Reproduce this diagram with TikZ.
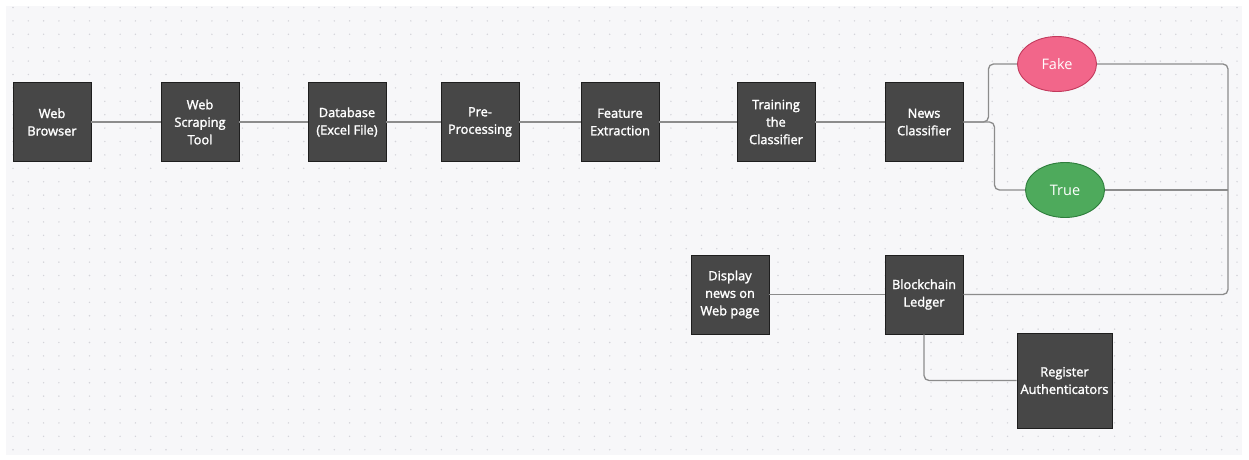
\documentclass[tikz,border=0pt]{standalone}
\usepackage{fontspec}
\newfontfamily\lbl{Open Sans}[FakeBold=1.8]
\newfontfamily\olbl{Open Sans}
\usetikzlibrary{shapes.geometric}
\definecolor{bgc}{HTML}{F7F7F9}
\definecolor{dotc}{HTML}{D4D4DA}
\definecolor{boxc}{HTML}{474747}
\definecolor{boxb}{HTML}{1E1E1E}
\definecolor{linec}{HTML}{8C8C8C}
\definecolor{fakef}{HTML}{F2668A}
\definecolor{fakeb}{HTML}{C23A5C}
\definecolor{truef}{HTML}{4EAA5C}
\definecolor{trueb}{HTML}{2E7D3C}
\tikzset{
  procbox/.style={draw=boxb, line width=0.9pt, fill=boxc, text=white, inner sep=0pt,
    minimum width=78pt, minimum height=79pt, align=center,
    font=\lbl\fontsize{12.8}{17.5}\selectfont},
  outbox/.style={ellipse, line width=0.9pt, text=white, inner sep=0pt,
    minimum width=79pt, minimum height=55pt, font=\olbl\fontsize{14.5}{16}\selectfont},
  conn/.style={draw=linec, line width=1.3pt, rounded corners=5pt}
}
\begin{document}
\begin{tikzpicture}[x=1pt, y=-1pt]
\useasboundingbox (0,0) rectangle (1249,460);
\fill[white] (0,0) rectangle (1249,460);
\fill[bgc] (6,6) rectangle (1242,455);
\foreach \i in {0,...,80} {
  \foreach \j in {0,...,33} {
    \fill[dotc] (13+15.3*\i, 7.5+13.4*\j) circle (0.8pt);
  }
}
\node[procbox] (wb)  at (52,122)  {Web\\Browser};
\node[procbox] (wst) at (200,122) {Web\\Scraping\\Tool};
\node[procbox] (db)  at (347,122) {Database\\(Excel File)};
\node[procbox] (pp)  at (480,122) {Pre-\\Processing};
\node[procbox] (fe)  at (620,122) {Feature\\Extraction};
\node[procbox] (tc)  at (776,122) {Training\\the\\Classifier};
\node[procbox] (nc)  at (924,122) {News\\Classifier};
\node[outbox, draw=fakeb, fill=fakef] (fake) at (1057,64) {Fake};
\node[outbox, draw=trueb, fill=truef] (true) at (1065,190) {True};
\node[procbox] (disp) at (730,294.5) {Display\\news on\\Web page};
\node[procbox] (bl) at (924,294.5) {Blockchain\\Ledger};
\node[procbox, minimum width=95pt, minimum height=95pt] (reg) at (1064.5,380.5) {Register\\Authenticators};
\coordinate (rt) at (1228,64);
\coordinate (rb) at (1228,294.5);
\draw[conn] (wb.east) -- (wst.west);
\draw[conn] (wst.east) -- (db.west);
\draw[conn] (db.east) -- (pp.west);
\draw[conn] (pp.east) -- (fe.west);
\draw[conn] (fe.east) -- (tc.west);
\draw[conn] (tc.east) -- (nc.west);
\draw[conn] (nc.east) -- ++(25,0) |- (fake.west);
\draw[conn] (nc.east) -- ++(31,0) |- (true.west);
\draw[conn] (fake.east) -- (rt) -- (rb) -- (bl.east);
\draw[conn] (true.east) -- (true.east -| rt);
\draw[conn] (disp.east) -- (bl.west);
\draw[conn] (bl.south) |- (reg.west);
\end{tikzpicture}
\end{document}
